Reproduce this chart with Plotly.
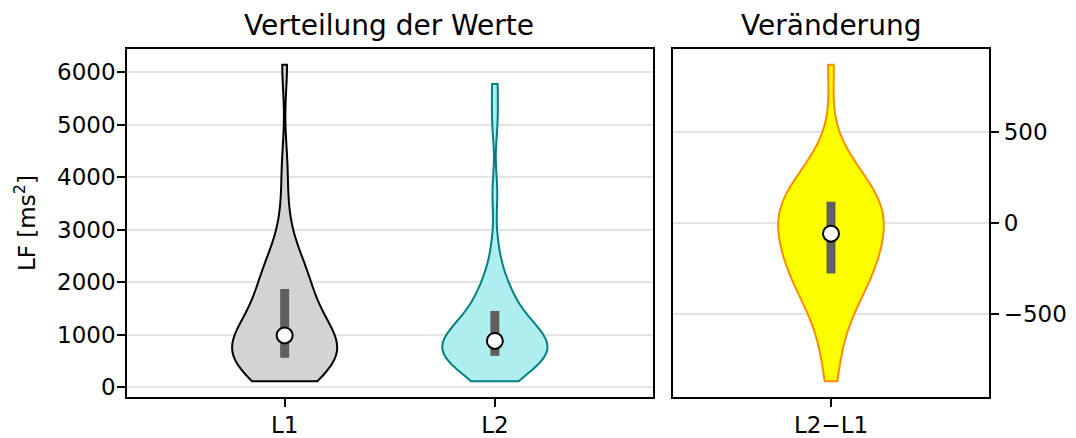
import numpy as np
import plotly.graph_objects as go

# LF values per subject, measurement L1 and L2 (same order)
lf_l1 = [113, 180, 240, 300, 350, 400, 440, 480, 515, 540,
         565, 600, 640, 690, 740, 790, 840, 890, 940, 970,
         1000, 1060, 1130, 1200, 1290, 1380, 1480, 1580, 1700, 1840,
         1960, 2030, 2110, 2200, 2320, 2480, 2700, 3300, 4200, 6144]
lf_l2 = [113, 292, 365, 395, 200, 480, 580, 455, 535, 600,
         555, 640, 800, 875, 950, 1030, 1115, 675, 705, 775,
         728, 885, 875, 1075, 1190, 1300, 1440, 970, 831, 1300,
         1485, 1600, 1720, 1900, 2650, 2155, 1950, 3700, 5066, 5779]

categories = ["L1", "L2"]
diff_label = "L2\u2212L1"
left_ticks = [0, 1000, 2000, 3000, 4000, 5000, 6000]
right_ticks = [-500, 0, 500]

diff = (np.array(lf_l2) - np.array(lf_l1)).tolist()

FONT = "DejaVu Sans"

fig = go.Figure()

panels = [
    (lf_l1, 1, "x", "y", "#d3d3d3", "black", 500),
    (lf_l2, 2, "x", "y", "#afeeee", "#008080", 380),
    (diff, 1, "x2", "y2", "#ffff00", "#ff8c00", 165),
]

for vals, pos, xa, ya, fill, edge, bw in panels:
    fig.add_trace(go.Violin(
        y=vals, x0=pos, xaxis=xa, yaxis=ya,
        width=0.5, side="both", spanmode="hard", bandwidth=bw,
        scalemode="width", points=False,
        fillcolor=fill, line=dict(color=edge, width=2), opacity=1,
        box_visible=False, meanline_visible=False, hoverinfo="skip",
    ))
    q1, med, q3 = np.percentile(vals, [25, 50, 75])
    # IQR bar
    fig.add_trace(go.Scatter(
        x=[pos, pos], y=[q1, q3], mode="lines", xaxis=xa, yaxis=ya,
        line=dict(color="#606060", width=9), hoverinfo="skip",
    ))
    # median
    fig.add_trace(go.Scatter(
        x=[pos], y=[med], mode="markers", xaxis=xa, yaxis=ya,
        marker=dict(size=16, color="white", line=dict(color="black", width=2)),
        hoverinfo="skip",
    ))

axis_style = dict(
    showline=True, mirror=True, linecolor="black", linewidth=1.5,
    ticks="outside", ticklen=8, tickwidth=1.5, tickcolor="black",
    zeroline=False, tickfont=dict(family=FONT, size=23, color="black"),
)

# page body adds an 8px offset, so the figure is 8px smaller than the window
fig.update_layout(
    width=1068, height=430,
    margin=dict(l=0, r=0, t=41, b=39),
    paper_bgcolor="white", plot_bgcolor="white",
    showlegend=False,
    xaxis=dict(domain=[0.1114, 0.6035], range=[0.25, 2.75], type="linear",
               tickvals=[1, 2], ticktext=categories, showgrid=False,
               anchor="y", ticklabelstandoff=-1, **axis_style),
    yaxis=dict(domain=[0, 1], range=[-189, 6445], tickvals=left_ticks,
               showgrid=True, gridcolor="#e4e4e4", gridwidth=1.5,
               anchor="x", ticklabelstandoff=-3, **axis_style),
    xaxis2=dict(domain=[0.6224, 0.9188], range=[0.25, 1.75], type="linear",
                tickvals=[1], ticktext=[diff_label], showgrid=False,
                anchor="y2", ticklabelstandoff=-1, **axis_style),
    yaxis2=dict(domain=[0, 1], range=[-956, 953], tickvals=right_ticks,
                showgrid=True, gridcolor="#e4e4e4", gridwidth=1.5,
                anchor="x2", side="right", **axis_style),
    annotations=[
        dict(text="Verteilung der Werte", x=0.3566, y=1, xref="paper", yref="paper",
             xanchor="center", yanchor="bottom", yshift=5, showarrow=False,
             font=dict(family=FONT, size=28, color="black")),
        dict(text="Veränderung", x=0.7706, y=1, xref="paper", yref="paper",
             xanchor="center", yanchor="bottom", yshift=5, showarrow=False,
             font=dict(family=FONT, size=28, color="black")),
        dict(text="LF [ms<sup>2</sup>]", x=0.0159, y=0.5, xref="paper", yref="paper",
             xanchor="center", yanchor="middle", textangle=-90, showarrow=False,
             font=dict(family=FONT, size=23, color="black")),
    ],
)

fig.write_html("out.html")
